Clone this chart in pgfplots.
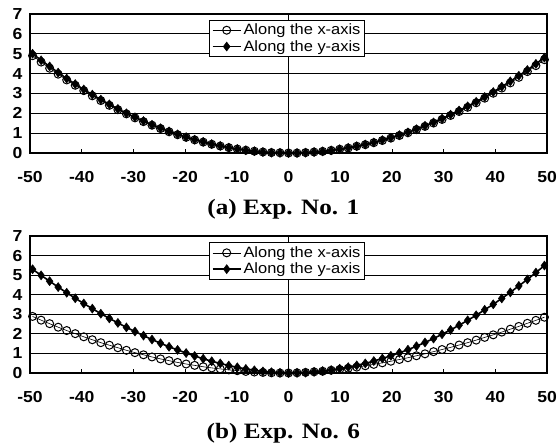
\documentclass[border=0pt]{standalone}
\usepackage{fontspec}
\usepackage{pgfplots}
\usepackage{pgfplotstable}
\pgfplotsset{compat=1.18}
\setmainfont{Liberation Serif}
\newfontfamily\capfont[FakeStretch=1.15]{Liberation Serif}
\newfontfamily\tickfont[FakeStretch=1.1]{Liberation Sans}
\newfontfamily\legfont[FakeStretch=1.1]{Liberation Sans}

\pgfplotstableread{
x ax ay bx by
-49.5 4.90 5.00 2.89 5.30
-47.85 4.58 4.67 2.70 4.99
-46.2 4.27 4.36 2.52 4.69
-44.55 3.97 4.05 2.34 4.39
-42.9 3.68 3.75 2.17 4.10
-41.25 3.41 3.47 2.01 3.82
-39.6 3.14 3.20 1.85 3.55
-37.95 2.88 2.94 1.70 3.29
-36.3 2.64 2.69 1.55 3.03
-34.65 2.40 2.45 1.42 2.79
-33 2.18 2.22 1.29 2.56
-31.35 1.97 2.00 1.16 2.33
-29.7 1.77 1.80 1.04 2.12
-28.05 1.58 1.61 0.93 1.91
-26.4 1.40 1.42 0.82 1.71
-24.75 1.23 1.25 0.72 1.52
-23.1 1.07 1.09 0.63 1.34
-21.45 0.92 0.94 0.54 1.18
-19.8 0.79 0.80 0.46 1.02
-18.15 0.66 0.67 0.39 0.87
-16.5 0.55 0.56 0.32 0.73
-14.85 0.44 0.45 0.26 0.60
-13.2 0.35 0.36 0.21 0.49
-11.55 0.27 0.27 0.16 0.38
-9.9 0.20 0.20 0.12 0.29
-8.25 0.14 0.14 0.08 0.21
-6.6 0.09 0.09 0.05 0.14
-4.95 0.05 0.05 0.03 0.08
-3.3 0.02 0.02 0.01 0.04
-1.65 0.01 0.01 0.00 0.01
0 0.00 0.00 0.00 0.00
1.65 0.00 0.00 0.01 0.01
3.3 0.02 0.02 0.03 0.02
4.95 0.05 0.05 0.06 0.06
6.6 0.08 0.08 0.09 0.10
8.25 0.13 0.13 0.14 0.15
9.9 0.19 0.19 0.18 0.22
11.55 0.25 0.26 0.24 0.30
13.2 0.34 0.34 0.30 0.39
14.85 0.42 0.43 0.37 0.49
16.5 0.52 0.53 0.44 0.61
18.15 0.63 0.65 0.52 0.74
19.8 0.75 0.77 0.60 0.88
21.45 0.88 0.90 0.69 1.03
23.1 1.02 1.04 0.78 1.19
24.75 1.18 1.20 0.88 1.37
26.4 1.34 1.37 0.98 1.56
28.05 1.51 1.54 1.09 1.76
29.7 1.69 1.73 1.20 1.98
31.35 1.89 1.93 1.31 2.20
33 2.09 2.14 1.43 2.44
34.65 2.30 2.35 1.55 2.69
36.3 2.53 2.58 1.68 2.95
37.95 2.76 2.82 1.82 3.23
39.6 3.01 3.07 1.95 3.51
41.25 3.27 3.34 2.09 3.81
42.9 3.53 3.61 2.24 4.12
44.55 3.81 3.89 2.38 4.45
46.2 4.10 4.18 2.54 4.78
47.85 4.40 4.49 2.69 5.13
49.5 4.70 4.80 2.85 5.49
}\data

\pgfplotsset{
  myaxis/.style={
    scale only axis,
    width=517bp,
    xmin=-50, xmax=50, ymin=0, ymax=7,
    xtick={-50,-40,-30,-20,-10,0,10,20,30,40,50},
    xticklabels={-50,-40,-30,-20,-10,0,10,20,30,40,50},
    ytick={0,1,2,3,4,5,6,7},
    yticklabels={0,1,2,3,4,5,6,7},
    tick align=inside,
    major tick length=4bp,
    xtick pos=bottom, ytick pos=left,
    tick style={black, line width=0.8bp},
    ymajorgrids,
    major grid style={black, line width=0.8bp},
    axis line style={black, line width=1.8bp},
    ticklabel style={font=\tickfont\bfseries\fontsize{16}{16}\selectfont},
    xticklabel style={yshift=-15bp},
    yticklabel style={xshift=-4bp},
    clip=false,
    legend cell align=left,
    legend style={draw=black, line width=1bp, fill=white,
      font=\legfont\fontsize{15}{15}\selectfont,
      inner sep=2bp, row sep=0bp,
      nodes={inner sep=2bp}},
    legend image code/.code={
      \draw[##1, mark repeat=2, mark phase=2] plot coordinates {(0bp,0bp) (14bp,0bp) (28bp,0bp)};
    },
    xlabel style={font=\capfont\bfseries\fontsize{22}{22}\selectfont, anchor=center},
  },
  xser/.style={black, line width=0.6bp, mark=o, mark size=4bp, mark options={fill=white, line width=1bp, solid}},
  yser/.style={black, line width=1.6bp, mark=diamond*, mark size=4.5bp, mark options={fill=black, line width=0.5bp, solid}},
}

\begin{document}
\begin{tikzpicture}
\useasboundingbox (0,0) rectangle (557bp,445bp);
\begin{axis}[myaxis, height=139bp, at={(30bp,292bp)}, anchor=south west,
  legend style={at={(0.347,0.96)}, anchor=north west},
  xlabel={(a) Exp. No. 1},
  xlabel style={at={(axis description cs:0.49,0)}, yshift=-56bp}]
  \addplot[black, line width=0.8bp, forget plot] coordinates {(0,0) (0,7)};
  \addplot[xser] table[x=x, y=ax] {\data};
  \addplot[yser] table[x=x, y=ay] {\data};
  \legend{Along the x-axis, Along the y-axis}
\end{axis}
\begin{axis}[myaxis, height=137bp, at={(30bp,72bp)}, anchor=south west,
  legend style={at={(0.347,0.955)}, anchor=north west},
  xlabel={(b) Exp. No. 6},
  xlabel style={at={(axis description cs:0.49,0)}, yshift=-60bp}]
  \addplot[black, line width=0.8bp, forget plot] coordinates {(0,0) (0,7)};
  \addplot[xser] table[x=x, y=bx] {\data};
  \addplot[yser] table[x=x, y=by] {\data};
  \legend{Along the x-axis, Along the y-axis}
\end{axis}
\end{tikzpicture}
\end{document}
